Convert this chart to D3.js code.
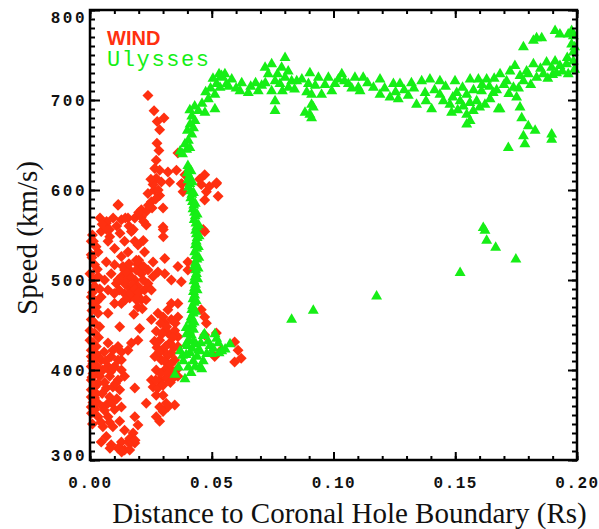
<!DOCTYPE html>
<html>
<head>
<meta charset="utf-8">
<script src="https://cdn.jsdelivr.net/npm/d3@7"></script>
<style>
  body { margin: 0; background: #fff; }
  svg { display: block; }
</style>
</head>
<body>
<div class="chart"></div>
<script>
const width = 599;
const height = 529;
const margin = { top: 10, right: 22, bottom: 69, left: 90 };

// WIND: [distance (Rs), speed (km/s)]
const windData = [
  [0.0238, 705], [0.0263, 688], [0.0304, 680], [0.0276, 676], [0.0286, 667],
  [0.0275, 652], [0.0283, 644], [0.0361, 641], [0.0272, 633], [0.0266, 624],
  [0.0286, 622], [0.0320, 620], [0.0355, 622], [0.0272, 613], [0.0293, 609],
  [0.0259, 606], [0.0327, 609], [0.0471, 617], [0.0519, 607], [0.0457, 606],
  [0.0478, 598], [0.0375, 607], [0.0382, 598], [0.0471, 589], [0.0526, 593],
  [0.0238, 596], [0.0286, 594], [0.0252, 587], [0.0211, 578], [0.0231, 576],
  [0.0115, 583], [0.0156, 569], [0.0129, 567], [0.0184, 569], [0.0211, 570],
  [0.0231, 561], [0.0300, 580], [0.0300, 559], [0.0067, 563], [0.0046, 554],
  [0.0170, 554], [0.0081, 548], [0.0005, 543], [0.0184, 543], [0.0033, 531],
  [0.0129, 526], [0.0307, 524], [0.0067, 520], [0.0190, 522], [0.0211, 515],
  [0.0163, 511], [0.0361, 515], [0.0471, 554], [0.0402, 520], [0.0116, 584],
  [0.0041, 569], [0.0095, 569], [0.0145, 569], [0.0200, 575], [0.0014, 543],
  [0.0068, 565], [0.0068, 556], [0.0123, 552], [0.0178, 556], [0.0219, 544],
  [0.0301, 556], [0.0301, 548], [0.0377, 607], [0.0465, 556], [0.0390, 617],
  [0.0520, 608], [0.0142, 543], [0.0156, 531], [0.0197, 539], [0.0224, 531],
  [0.0197, 517], [0.0238, 511], [0.0101, 535], [0.0101, 517], [0.0019, 517],
  [0.0005, 528], [0.0074, 543], [0.0259, 520], [0.0279, 509], [0.0402, 511],
  [0.0033, 504], [0.0060, 500], [0.0019, 493], [0.0046, 481], [0.0012, 474],
  [0.0033, 463], [0.0005, 456], [0.0129, 504], [0.0156, 507], [0.0184, 500],
  [0.0211, 507], [0.0238, 496], [0.0197, 493], [0.0156, 493], [0.0142, 485],
  [0.0184, 481], [0.0211, 478], [0.0129, 474], [0.0101, 474], [0.0259, 504],
  [0.0307, 507], [0.0334, 500], [0.0375, 498], [0.0224, 489], [0.0279, 463],
  [0.0320, 467], [0.0334, 456], [0.0307, 452], [0.0361, 459], [0.0272, 443],
  [0.0320, 441], [0.0348, 444], [0.0286, 433], [0.0327, 430], [0.0300, 422],
  [0.0334, 419], [0.0293, 411], [0.0320, 407], [0.0348, 411], [0.0272, 400],
  [0.0307, 400], [0.0334, 400], [0.0286, 389], [0.0313, 391], [0.0259, 381],
  [0.0279, 380], [0.0471, 459], [0.0457, 467], [0.0478, 452], [0.0471, 439],
  [0.0519, 441], [0.0594, 431], [0.0608, 422], [0.0621, 413], [0.0594, 409],
  [0.0539, 422], [0.0512, 415], [0.0019, 441], [0.0074, 430], [0.0026, 426],
  [0.0115, 426], [0.0156, 422], [0.0197, 433], [0.0170, 430], [0.0005, 415],
  [0.0046, 411], [0.0087, 415], [0.0129, 411], [0.0101, 404], [0.0053, 400],
  [0.0129, 400], [0.0012, 396], [0.0081, 393], [0.0115, 389], [0.0033, 385],
  [0.0005, 378], [0.0067, 380], [0.0122, 378], [0.0184, 380], [0.0019, 369],
  [0.0081, 370], [0.0005, 359], [0.0053, 359], [0.0101, 356], [0.0033, 348],
  [0.0074, 348], [0.0122, 343], [0.0184, 348], [0.0094, 337], [0.0197, 339],
  [0.0177, 330], [0.0046, 320], [0.0087, 317], [0.0129, 320], [0.0156, 320],
  [0.0142, 311], [0.0184, 319], [0.0115, 313], [0.0231, 363], [0.0286, 359],
  [0.0320, 359], [0.0272, 348], [0.0300, 354], [0.0348, 361], [0.0286, 343],
  [0.0313, 363], [0.0204, 446], [0.0122, 448], [0.0000, 507], [0.0087, 507],
  [0.0108, 496], [0.0074, 489], [0.0005, 481], [0.0026, 470], [0.0074, 463],
  [0.0000, 444], [0.0040, 448], [0.0000, 433], [0.0005, 422], [0.0005, 404],
  [0.0005, 389], [0.0005, 370], [0.0019, 381], [0.0142, 496], [0.0170, 489],
  [0.0252, 489], [0.0197, 470], [0.0163, 480], [0.0218, 500], [0.0142, 511],
  [0.0190, 511], [0.0361, 474], [0.0334, 474], [0.0361, 437], [0.0361, 426],
  [0.0355, 400], [0.0361, 393], [0.0300, 372], [0.0272, 372], [0.0252, 389],
  [0.0266, 415], [0.0307, 444], [0.0252, 456], [0.0300, 459], [0.0012, 407],
  [0.0033, 415], [0.0040, 393], [0.0074, 404], [0.0094, 422], [0.0115, 411],
  [0.0129, 420], [0.0094, 381], [0.0142, 393], [0.0074, 363], [0.0129, 359],
  [0.0053, 337], [0.0142, 333], [0.0163, 324], [0.0067, 326], [0.0129, 311],
  [0.0163, 311], [0.0082, 313], [0.0130, 309], [0.0171, 320], [0.0185, 322],
  [0.0010, 550], [0.0025, 537], [0.0008, 525], [0.0030, 512], [0.0015, 500],
  [0.0040, 490], [0.0010, 486], [0.0028, 476], [0.0008, 466], [0.0020, 452],
  [0.0035, 436], [0.0012, 430], [0.0025, 418], [0.0010, 410], [0.0030, 404],
  [0.0018, 398], [0.0008, 392], [0.0026, 374], [0.0012, 364], [0.0030, 364],
  [0.0006, 352], [0.0020, 356], [0.0045, 342], [0.0010, 340], [0.0060, 386],
  [0.0050, 374], [0.0065, 410], [0.0058, 420], [0.0085, 398], [0.0095, 402],
  [0.0105, 385], [0.0090, 363], [0.0110, 368], [0.0060, 355], [0.0080, 342],
  [0.0135, 515], [0.0150, 500], [0.0170, 503], [0.0175, 495], [0.0165, 485],
  [0.0185, 490], [0.0200, 486], [0.0190, 478], [0.0145, 478], [0.0160, 518],
  [0.0200, 522], [0.0220, 515], [0.0115, 500], [0.0120, 489], [0.0100, 485],
  [0.0230, 478], [0.0215, 468], [0.0180, 462], [0.0290, 452], [0.0315, 448],
  [0.0340, 436], [0.0295, 440], [0.0310, 426], [0.0285, 420], [0.0320, 416],
  [0.0345, 425], [0.0305, 410], [0.0330, 406], [0.0290, 396], [0.0320, 396],
  [0.0345, 392], [0.0300, 383], [0.0270, 389], [0.0350, 452], [0.0265, 432],
  [0.0275, 425], [0.0330, 386], [0.0250, 612], [0.0265, 600], [0.0280, 600],
  [0.0255, 580], [0.0240, 583], [0.0270, 590], [0.0220, 565], [0.0160, 560],
  [0.0080, 556], [0.0050, 562], [0.0110, 560], [0.0450, 612], [0.0490, 604]
];

// Ulysses: [distance (Rs), speed (km/s)]
const ulyssesData = [
  [0.0402, 628], [0.0406, 625], [0.0400, 620], [0.0408, 616], [0.0403, 612],
  [0.0410, 608], [0.0405, 604], [0.0413, 600], [0.0418, 596], [0.0414, 592],
  [0.0421, 588], [0.0426, 584], [0.0423, 580], [0.0429, 576], [0.0432, 572],
  [0.0428, 568], [0.0435, 564], [0.0438, 560], [0.0434, 556], [0.0437, 552],
  [0.0440, 548], [0.0436, 544], [0.0433, 540], [0.0438, 536], [0.0430, 532],
  [0.0435, 528], [0.0439, 524], [0.0433, 520], [0.0429, 516], [0.0434, 512],
  [0.0437, 508], [0.0431, 504], [0.0427, 500], [0.0433, 496], [0.0429, 492],
  [0.0425, 488], [0.0430, 484], [0.0423, 480], [0.0428, 476], [0.0421, 472],
  [0.0418, 468], [0.0424, 464], [0.0416, 460], [0.0412, 456], [0.0419, 452],
  [0.0414, 448], [0.0409, 444], [0.0416, 440],
  [0.0415, 622], [0.0420, 610], [0.0425, 598], [0.0432, 586], [0.0440, 574],
  [0.0446, 562], [0.0448, 550], [0.0445, 538], [0.0447, 526], [0.0444, 514],
  [0.0442, 502], [0.0440, 490], [0.0436, 478], [0.0433, 466], [0.0428, 454],
  [0.0425, 446],
  [0.0397, 441], [0.0424, 433], [0.0465, 439], [0.0513, 441], [0.0527, 431],
  [0.0493, 428], [0.0575, 430], [0.0370, 422], [0.0411, 420], [0.0452, 422],
  [0.0479, 419], [0.0541, 422], [0.0383, 411], [0.0424, 411], [0.0465, 411],
  [0.0363, 404], [0.0404, 404], [0.0459, 402], [0.0349, 396], [0.0390, 391],
  [0.0520, 436], [0.0470, 441], [0.0452, 404], [0.0506, 425], [0.0400, 428],
  [0.0380, 417], [0.0440, 416], [0.0415, 398], [0.0395, 448], [0.0405, 434],
  [0.0395, 430], [0.0420, 425], [0.0435, 430], [0.0445, 423], [0.0455, 431],
  [0.0432, 405], [0.0395, 418], [0.0485, 433], [0.0500, 419], [0.0530, 420],
  [0.0555, 424],
  [0.0370, 644], [0.0397, 646], [0.0404, 656], [0.0418, 663], [0.0411, 674],
  [0.0431, 678], [0.0418, 683], [0.0445, 689], [0.0472, 687], [0.0486, 702],
  [0.0513, 691], [0.0513, 707], [0.0520, 719], [0.0541, 726], [0.0554, 730],
  [0.0582, 724], [0.0534, 715], [0.0561, 719], [0.0623, 720], [0.0616, 711],
  [0.0390, 652], [0.0400, 667], [0.0425, 670], [0.0410, 690], [0.0430, 694],
  [0.0460, 697], [0.0475, 710], [0.0495, 714], [0.0505, 725], [0.0530, 730],
  [0.0570, 716], [0.0600, 714], [0.0380, 641], [0.0410, 648],
  [0.0650, 709], [0.0691, 711], [0.0705, 717], [0.0719, 737], [0.0746, 741],
  [0.0732, 730], [0.0760, 722], [0.0746, 711], [0.0760, 700], [0.0760, 689],
  [0.0787, 737], [0.0801, 748], [0.0814, 733], [0.0828, 722], [0.0780, 719],
  [0.0801, 726], [0.0849, 722], [0.0903, 731], [0.0897, 719], [0.0938, 726],
  [0.0910, 707], [0.0951, 707], [0.0883, 687], [0.0910, 681], [0.0910, 696],
  [0.0979, 726], [0.1006, 719], [0.1034, 730], [0.1061, 719], [0.1088, 726],
  [0.1102, 715], [0.0993, 711], [0.0917, 693], [0.0903, 685], [0.0540, 728],
  [0.0660, 716], [0.0680, 720], [0.0720, 720], [0.0770, 730], [0.0790, 711],
  [0.0815, 715], [0.0840, 713], [0.0870, 724], [0.0890, 710], [0.0925, 717],
  [0.0965, 718], [0.1020, 724], [0.1045, 722], [0.1075, 714],
  [0.1122, 726], [0.1109, 711], [0.1164, 715], [0.1191, 724], [0.1191, 707],
  [0.1232, 704], [0.1246, 719], [0.1273, 719], [0.1266, 702], [0.1320, 720],
  [0.1307, 706], [0.1341, 696], [0.1362, 722], [0.1376, 709], [0.1396, 724],
  [0.1403, 691], [0.1437, 722], [0.1437, 707], [0.1451, 700], [0.1478, 696],
  [0.1499, 722], [0.1506, 709], [0.1485, 687], [0.1520, 700], [0.1533, 694],
  [0.1547, 707], [0.1561, 724], [0.1547, 685], [0.1561, 678], [0.1574, 689],
  [0.1595, 724], [0.1588, 700], [0.1608, 711], [0.1629, 724], [0.1622, 696],
  [0.1643, 702], [0.1656, 709], [0.1684, 730], [0.1684, 691], [0.1711, 722],
  [0.1725, 733], [0.1745, 739], [0.1739, 715], [0.1752, 704], [0.1766, 728],
  [0.1140, 720], [0.1210, 714], [0.1255, 710], [0.1290, 712], [0.1330, 714],
  [0.1380, 700], [0.1415, 712], [0.1460, 716], [0.1490, 704], [0.1510, 690],
  [0.1530, 715], [0.1560, 698], [0.1575, 712], [0.1600, 693], [0.1610, 718],
  [0.1640, 716], [0.1660, 725], [0.1670, 712], [0.1700, 718], [0.1720, 708],
  [0.1760, 714], [0.1800, 730], [0.1810, 718], [0.1850, 736], [0.1880, 725],
  [0.1900, 729], [0.1940, 733], [0.1990, 735], [0.1960, 748], [0.1990, 760],
  [0.1780, 722], [0.1793, 733], [0.1821, 741], [0.1834, 726], [0.1862, 730],
  [0.1875, 743], [0.1896, 737], [0.1910, 744], [0.1916, 731], [0.1930, 739],
  [0.1957, 741], [0.1964, 730], [0.1985, 744], [0.1985, 754], [0.1978, 763],
  [0.1834, 770], [0.1855, 770], [0.1821, 767], [0.1780, 760], [0.1910, 778],
  [0.1930, 774], [0.1978, 778], [0.1964, 774], [0.1985, 772], [0.1547, 674],
  [0.1766, 693], [0.1773, 681], [0.1800, 672], [0.1828, 667], [0.1780, 661],
  [0.1786, 652], [0.1896, 663], [0.1896, 657], [0.1718, 648], [0.1677, 691],
  [0.1615, 559], [0.1622, 556], [0.1629, 545], [0.1666, 537], [0.1749, 524],
  [0.1520, 509], [0.1177, 483], [0.0917, 467], [0.0828, 457]
];

const xTicks = [0.00, 0.05, 0.10, 0.15, 0.20];
const yTicks = [300, 400, 500, 600, 700, 800];

const svg = d3.select(".chart")
  .append("svg")
  .attr("width", width)
  .attr("height", height);

const x = d3.scaleLinear()
  .domain([0, 0.2])
  .range([margin.left, width - margin.right]);

const y = d3.scaleLinear()
  .domain([300, 800])
  .range([height - margin.bottom, margin.top]);

const x0 = margin.left, x1 = width - margin.right;
const y0 = height - margin.bottom, y1 = margin.top;

// points
const diamond = d3.symbol().type(d3.symbolSquare).size(60);
const triangle = d3.symbol().type(d3.symbolTriangle).size(52);

svg.append("g")
  .selectAll("path")
  .data(windData)
  .enter()
  .append("path")
  .attr("d", diamond)
  .attr("transform", d => `translate(${x(d[0])},${y(d[1])}) rotate(45)`)
  .attr("fill", "#ff3010");

svg.append("g")
  .selectAll("path")
  .data(ulyssesData)
  .enter()
  .append("path")
  .attr("d", triangle)
  .attr("transform", d => `translate(${x(d[0])},${y(d[1]) + 1})`)
  .attr("fill", "#16ee16");

// axes: major + minor ticks on all four sides, pointing inward
const styleAxis = (g) => {
  g.selectAll(".domain").remove();
  g.selectAll(".tick line").attr("stroke", "#000").attr("stroke-width", 2);
};

const xMinor = x.ticks(20);
const yMinor = y.ticks(50);

svg.append("g")
  .attr("transform", `translate(0,${y0})`)
  .call(d3.axisBottom(x).tickValues(xMinor).tickSize(-4).tickFormat(""))
  .call(styleAxis);
svg.append("g")
  .attr("transform", `translate(0,${y1})`)
  .call(d3.axisTop(x).tickValues(xMinor).tickSize(-4).tickFormat(""))
  .call(styleAxis);
svg.append("g")
  .attr("transform", `translate(0,${y1})`)
  .call(d3.axisTop(x).tickValues(xTicks).tickSize(-8).tickFormat(""))
  .call(styleAxis);
svg.append("g")
  .attr("transform", `translate(${x0},0)`)
  .call(d3.axisLeft(y).tickValues(yMinor).tickSize(-5).tickFormat(""))
  .call(styleAxis);
svg.append("g")
  .attr("transform", `translate(${x1},0)`)
  .call(d3.axisRight(y).tickValues(yMinor).tickSize(-5).tickFormat(""))
  .call(styleAxis);
svg.append("g")
  .attr("transform", `translate(${x1},0)`)
  .call(d3.axisRight(y).tickValues(yTicks).tickSize(-9).tickFormat(""))
  .call(styleAxis);

const xAxis = svg.append("g")
  .attr("transform", `translate(0,${y0})`)
  .call(d3.axisBottom(x).tickValues(xTicks).tickSize(-8).tickPadding(17)
    .tickFormat(d3.format(".2f")))
  .call(styleAxis);
xAxis.selectAll("text")
  .attr("fill", "#111")
  .style("font-family", "'Liberation Mono', monospace")
  .style("font-weight", "bold")
  .style("font-size", "16px")
  .style("letter-spacing", "1.5px");

const yAxis = svg.append("g")
  .attr("transform", `translate(${x0},0)`)
  .call(d3.axisLeft(y).tickValues(yTicks).tickSize(-10).tickPadding(3))
  .call(styleAxis);
yAxis.selectAll("text")
  .attr("fill", "#111")
  .attr("y", d => Math.min(Math.max(y(d), y1 + 7), y0 - 5) - y(d))
  .style("font-family", "'Liberation Mono', monospace")
  .style("font-weight", "bold")
  .style("font-size", "16px")
  .style("letter-spacing", "2.5px");

// frame
svg.append("rect")
  .attr("x", x0)
  .attr("y", y1)
  .attr("width", x1 - x0)
  .attr("height", y0 - y1)
  .attr("fill", "none")
  .attr("stroke", "#000")
  .attr("stroke-width", 2.5);

// legend
svg.append("text")
  .attr("x", 107)
  .attr("y", 45)
  .attr("fill", "#ff3010")
  .style("font-family", "'Liberation Sans', Arial, sans-serif")
  .style("font-weight", "bold")
  .style("font-size", "20px")
  .text("WIND");

svg.append("text")
  .attr("x", 107)
  .attr("y", 66)
  .attr("fill", "#16ee16")
  .style("font-family", "'Liberation Mono', monospace")
  .style("font-size", "22px")
  .style("letter-spacing", "1.6px")
  .text("Ulysses");

// axis titles
svg.append("text")
  .attr("x", (112 + 587) / 2)
  .attr("y", 523)
  .attr("text-anchor", "middle")
  .attr("fill", "#111")
  .style("font-family", "'Liberation Serif', 'Times New Roman', serif")
  .style("font-size", "29px")
  .text("Distance to Coronal Hole Boundary (Rs)");

svg.append("text")
  .attr("transform", `translate(37, ${(163 + 313) / 2}) rotate(-90)`)
  .attr("text-anchor", "middle")
  .attr("fill", "#111")
  .style("font-family", "'Liberation Serif', 'Times New Roman', serif")
  .style("font-size", "29px")
  .text("Speed (km/s)");
</script>
</body>
</html>
